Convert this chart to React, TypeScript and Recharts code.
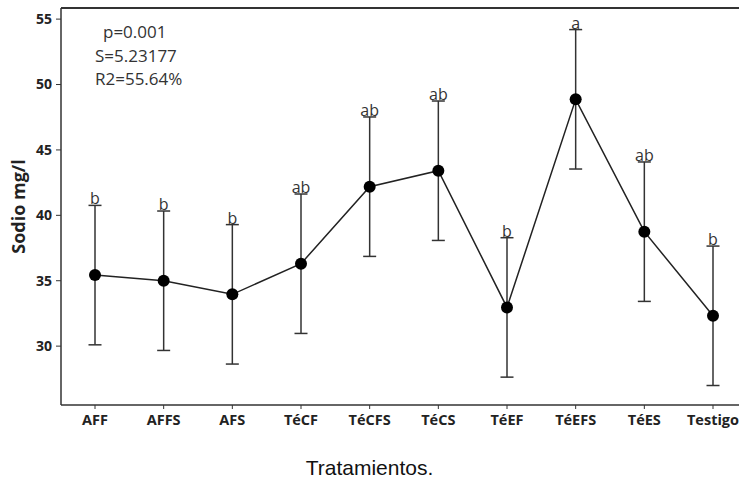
import React from 'react';
import { LineChart, Line, XAxis, YAxis, ErrorBar, LabelList, ReferenceLine } from 'recharts';

const categories = ['AFF', 'AFFS', 'AFS', 'TéCF', 'TéCFS', 'TéCS', 'TéEF', 'TéEFS', 'TéES', 'Testigo'];
const means = [35.43, 35.0, 33.96, 36.3, 42.19, 43.41, 32.96, 48.87, 38.75, 32.32];
const errors = [5.33, 5.33, 5.33, 5.33, 5.33, 5.33, 5.33, 5.33, 5.33, 5.33];
const groups = ['b', 'b', 'b', 'ab', 'ab', 'ab', 'b', 'a', 'ab', 'b'];
const yTicks = [30, 35, 40, 45, 50, 55];
const yDomain = [25.5, 55.85];
const statLines = ['p=0.001', 'S=5.23177', 'R2=55.64%'];
const xTitle = 'Tratamientos.';

const data = categories.map((name, i) => ({
  name,
  mean: means[i],
  err: errors[i],
  upper: means[i] + errors[i],
  group: groups[i],
}));

const FONT = '"Open Sans", "DejaVu Sans", sans-serif';

const YTitle = (props: any) => {
  const vb = props.viewBox;
  const cx = vb.x + 18;
  const cy = vb.y + vb.height / 2;
  return (
    <text x={cx} y={cy} transform={`rotate(-90 ${cx} ${cy})`} textAnchor="middle" dominantBaseline="central"
      fontFamily={FONT} fontWeight={700} fontSize={18} fill="#222">Sodio mg/l</text>
  );
};

const GroupLabel = (props: any) => {
  const { x, y, width, value } = props;
  const cx = x + (width || 0) / 2;
  return (
    <text x={cx} y={y - 1} textAnchor="middle" fontFamily={FONT} fontSize={16} fill="#333">{value}</text>
  );
};

export default function App() {
  return (
    <div style={{ position: 'relative', width: 739, height: 480, overflow: 'hidden', background: '#fff' }}>
      <style>{'html,body{margin:0;padding:0;overflow:hidden;}'}</style>
      <LineChart width={760} height={480} data={data} margin={{ top: 8, right: 13, bottom: 0, left: 0 }}>
        <XAxis dataKey="name" height={75} tickSize={4} tickMargin={6} padding={{ left: 34, right: 34 }}
          axisLine={{ stroke: '#333', strokeWidth: 1.5 }} tickLine={{ stroke: '#333' }}
          tick={{ fontFamily: FONT, fontWeight: 700, fontSize: 14.5, fill: '#222' }}
          interval={0} />
        <YAxis width={61} domain={yDomain} ticks={yTicks} tickSize={5} tickMargin={4}
          axisLine={{ stroke: '#333', strokeWidth: 1.5 }} tickLine={{ stroke: '#333' }}
          tick={{ fontFamily: FONT, fontWeight: 700, fontSize: 14, fill: '#222' }}
          allowDataOverflow label={<YTitle />} />
        <ReferenceLine y={yDomain[1]} stroke="#333" strokeWidth={2} />
        <Line dataKey="mean" stroke="#222" strokeWidth={1.5} isAnimationActive={false}
          dot={{ r: 6, fill: '#000', stroke: '#000', strokeWidth: 0 }} activeDot={false}>
          <ErrorBar dataKey="err" width={6.5} stroke="#333" strokeWidth={1.5} direction="y" isAnimationActive={false} />
        </Line>
        <Line dataKey="upper" stroke="none" dot={false} activeDot={false} isAnimationActive={false} legendType="none">
          <LabelList dataKey="group" content={<GroupLabel />} />
        </Line>
      </LineChart>
      <svg width={739} height={480} style={{ position: 'absolute', left: 0, top: 0, pointerEvents: 'none' }}>
        <text x={103} y={38} fontFamily={FONT} fontSize={17} fill="#333">{statLines[0]}</text>
        <text x={95} y={62} fontFamily={FONT} fontSize={17} fill="#333">{statLines[1]}</text>
        <text x={95} y={85} fontFamily={FONT} fontSize={17} fill="#333">{statLines[2]}</text>
        <text x={369.5} y={475} textAnchor="middle" fontFamily={'"Liberation Sans", Arial, sans-serif'} fontSize={21} fill="#111">{xTitle}</text>
      </svg>
    </div>
  );
}
